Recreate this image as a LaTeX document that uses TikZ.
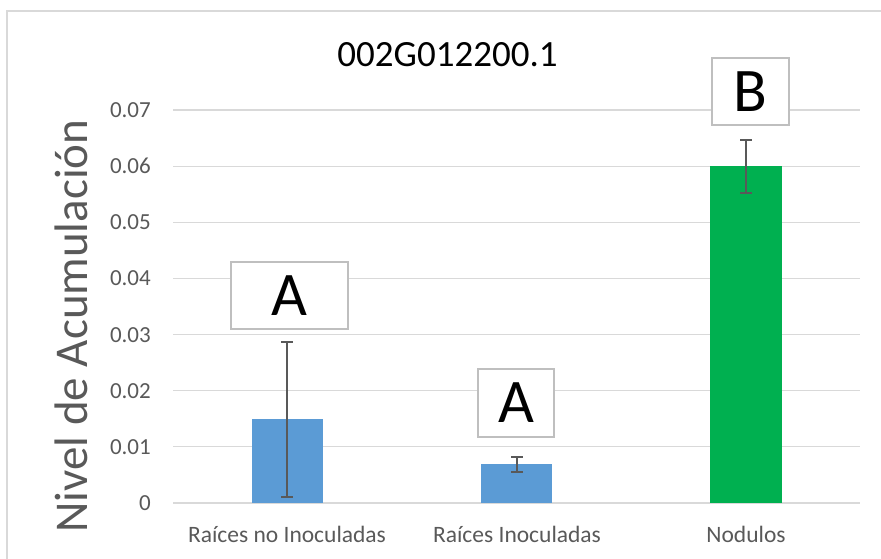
\documentclass[tikz,border=0pt]{standalone}
\usepackage{fontspec}
\setmainfont{Carlito}
\definecolor{gridc}{HTML}{D9D9D9}
\definecolor{txtc}{HTML}{595959}
\definecolor{barblue}{HTML}{5B9BD5}
\definecolor{bargreen}{HTML}{00B050}
\definecolor{boxc}{HTML}{BFBFBF}
\begin{document}
\begin{tikzpicture}[x=1pt,y=-1pt,
  gridline/.style={gridc, line width=1.2pt},
  ticklab/.style={anchor=base east, text=txtc, font=\fontsize{23}{23}\selectfont, inner sep=0pt},
  catlab/.style={anchor=base, text=txtc, font=\fontsize{23.5}{23.5}\selectfont, inner sep=0pt},
  errbar/.style={txtc, line width=2pt},
  letterbox/.style={draw=boxc, line width=1.6pt, fill=white, inner sep=0pt, font=\fontsize{62}{62}\selectfont, text=black}
]
\useasboundingbox (0,0) rectangle (881,558);
\clip (0,0) rectangle (881,558);
% outer chart border
\draw[gridc, line width=1.4pt] (7,11) rectangle (900,580);
% gridlines and tick labels
\foreach \k/\lab in {0/0,1/0.01,2/0.02,3/0.03,4/0.04,5/0.05,6/0.06,7/0.07}{
  \draw[gridline] (173,{503-56.14*\k}) -- (860,{503-56.14*\k});
  \node[ticklab] (t\k) at (151,{503-56.14*\k+7.5}) {\lab};
}
% bars
\fill[barblue] (251.5,503) rectangle (322.5,418.8);
\fill[barblue] (481,503) rectangle (552,463.7);
\fill[bargreen] (710,503) rectangle (782,166.2);
% error bars
\coordinate (e1t) at (287,342); \coordinate (e1b) at (287,497);
\coordinate (e2t) at (517,457); \coordinate (e2b) at (517,472);
\coordinate (e3t) at (746,140); \coordinate (e3b) at (746,193);
\foreach \i in {1,2,3}{
  \draw[errbar] (e\i t) -- (e\i b);
  \draw[errbar] ([xshift=-6pt]e\i t) -- ([xshift=6pt]e\i t);
  \draw[errbar] ([xshift=-6pt]e\i b) -- ([xshift=6pt]e\i b);
}
% letter boxes
\node[letterbox, minimum width=117pt, minimum height=67pt] (bA1) at (289.5,295.5) {A};
\node[letterbox, minimum width=76pt, minimum height=68pt] (bA2) at (516,403) {A};
\node[letterbox, minimum width=77pt, minimum height=67pt] (bB) at (750.5,91.5) {B};
% category labels
\node[catlab] (c1) at (287,542) {Raíces no Inoculadas};
\node[catlab] (c2) at (517,542) {Raíces Inoculadas};
\node[catlab] (c3) at (746,542) {Nodulos};
% title
\node[font=\fontsize{37}{37}\selectfont, text=black, inner sep=0pt] (title) at (447.5,55) {002G012200.1};
% y axis label
\node[rotate=90, anchor=base, font=\fontsize{47}{47}\selectfont, text=txtc, inner sep=0pt] (ylab) at (87,326) {Nivel de Acumulación};
\end{tikzpicture}
\end{document}
